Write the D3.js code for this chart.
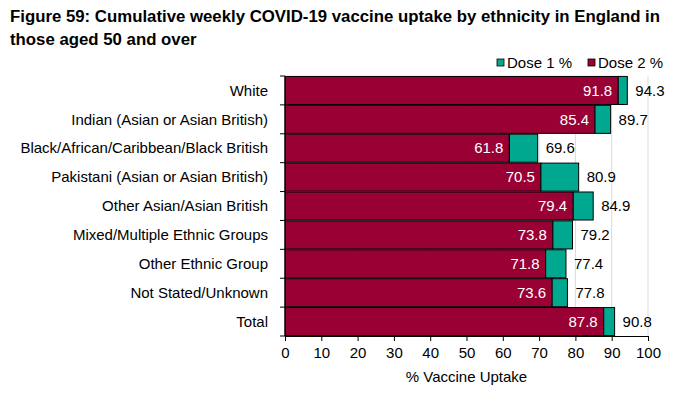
<!DOCTYPE html>
<html>
<head>
<meta charset="utf-8">
<script src="https://cdn.jsdelivr.net/npm/d3@7"></script>
<style>
  body { margin: 0; background: #fff; }
  svg { font-family: Arial, "Liberation Sans", sans-serif; display: block; }
</style>
</head>
<body>
<div id="chart"></div>
<script>
const categories = [
  "White",
  "Indian (Asian or Asian British)",
  "Black/African/Caribbean/Black British",
  "Pakistani (Asian or Asian British)",
  "Other Asian/Asian British",
  "Mixed/Multiple Ethnic Groups",
  "Other Ethnic Group",
  "Not Stated/Unknown",
  "Total",
];
const dose2 = [91.8, 85.4, 61.8, 70.5, 79.4, 73.8, 71.8, 73.6, 87.8];
const dose1 = [94.3, 89.7, 69.6, 80.9, 84.9, 79.2, 77.4, 77.8, 90.8];
const xTicks = [0, 10, 20, 30, 40, 50, 60, 70, 80, 90, 100];

const width = 680, height = 395;
const margin = { top: 76, right: 32, bottom: 59, left: 285 };
const colDose1 = "#00a88f", colDose2 = "#990033";
const fs = 15;

const svg = d3.select("#chart").append("svg")
  .attr("width", width).attr("height", height);

svg.append("text")
  .attr("x", 10).attr("y", 22)
  .attr("font-size", 16.8).attr("font-weight", "bold").attr("fill", "#000")
  .text("Figure 59: Cumulative weekly COVID-19 vaccine uptake by ethnicity in England in");
svg.append("text")
  .attr("x", 10).attr("y", 45)
  .attr("font-size", 16.8).attr("font-weight", "bold").attr("fill", "#000")
  .text("those aged 50 and over");

const x = d3.scaleLinear().domain([0, 100])
  .range([margin.left, width - margin.right]);
const y = d3.scaleBand().domain(categories)
  .range([margin.top, height - margin.bottom]).paddingInner(0.03).paddingOuter(0.015);

// gridlines
svg.append("g").selectAll("line")
  .data(xTicks.slice(1))
  .join("line")
  .attr("x1", d => x(d)).attr("x2", d => x(d))
  .attr("y1", margin.top).attr("y2", height - margin.bottom)
  .attr("stroke", "#d9d9d9").attr("stroke-width", 1);

const rows = categories.map((c, i) => ({ cat: c, d2: dose2[i], d1: dose1[i] }));

const g = svg.append("g");
g.selectAll(".bar2").data(rows).join("rect")
  .attr("class", "bar2")
  .attr("x", x(0)).attr("y", d => y(d.cat))
  .attr("width", d => x(d.d2) - x(0)).attr("height", y.bandwidth())
  .attr("fill", colDose2).attr("stroke", "#000").attr("stroke-width", 1);
g.selectAll(".bar1").data(rows).join("rect")
  .attr("class", "bar1")
  .attr("x", d => x(d.d2)).attr("y", d => y(d.cat))
  .attr("width", d => x(d.d1) - x(d.d2)).attr("height", y.bandwidth())
  .attr("fill", colDose1).attr("stroke", "#000").attr("stroke-width", 1);

// value labels
g.selectAll(".lab2").data(rows).join("text")
  .attr("x", d => x(d.d2) - 6).attr("y", d => y(d.cat) + y.bandwidth() / 2)
  .attr("dy", "0.35em").attr("text-anchor", "end")
  .attr("font-size", fs).attr("fill", "#fff")
  .text(d => d.d2.toFixed(1));
g.selectAll(".lab1").data(rows).join("text")
  .attr("x", d => x(d.d1) + 8).attr("y", d => y(d.cat) + y.bandwidth() / 2)
  .attr("dy", "0.35em").attr("text-anchor", "start")
  .attr("font-size", fs).attr("fill", "#000")
  .text(d => d.d1.toFixed(1));

// left axis: line and ticks at band boundaries
const yAxis = svg.append("g");
yAxis.append("line")
  .attr("x1", x(0)).attr("x2", x(0))
  .attr("y1", margin.top).attr("y2", height - margin.bottom)
  .attr("stroke", "#000");
const bounds = d3.range(categories.length + 1).map(i => margin.top + i * (height - margin.top - margin.bottom) / categories.length);
yAxis.selectAll(".tk").data(bounds).join("line")
  .attr("x1", x(0) - 5).attr("x2", x(0))
  .attr("y1", d => d).attr("y2", d => d)
  .attr("stroke", "#000");
yAxis.selectAll(".cl").data(categories).join("text")
  .attr("x", x(0) - 17).attr("y", d => y(d) + y.bandwidth() / 2)
  .attr("dy", "0.35em").attr("text-anchor", "end")
  .attr("font-size", fs).attr("fill", "#000")
  .text(d => d);

// bottom axis
const xAxis = svg.append("g")
  .attr("transform", `translate(0,${height - margin.bottom})`)
  .call(d3.axisBottom(x).tickValues(xTicks).tickSize(5).tickSizeOuter(0).tickPadding(6));
xAxis.select(".domain").attr("stroke", "#000");
xAxis.selectAll(".tick line").attr("stroke", "#000");
xAxis.selectAll("text").attr("font-size", fs).attr("fill", "#000")
  .attr("font-family", "Arial, 'Liberation Sans', sans-serif");

svg.append("text")
  .attr("x", (x(0) + x(100)) / 2).attr("y", 382)
  .attr("text-anchor", "middle").attr("font-size", fs).attr("fill", "#000")
  .text("% Vaccine Uptake");

// legend
const legend = [
  { label: "Dose 1 %", color: colDose1, x: 497 },
  { label: "Dose 2 %", color: colDose2, x: 588 },
];
const lg = svg.append("g").selectAll("g").data(legend).join("g")
  .attr("transform", d => `translate(${d.x},63)`);
lg.append("rect")
  .attr("x", 0).attr("y", -4).attr("width", 7).attr("height", 7)
  .attr("fill", d => d.color).attr("stroke", "#000").attr("stroke-width", 0.8);
lg.append("text")
  .attr("x", 10).attr("y", 0).attr("dy", "0.35em")
  .attr("font-size", fs).attr("fill", "#000")
  .text(d => d.label);
</script>
</body>
</html>
